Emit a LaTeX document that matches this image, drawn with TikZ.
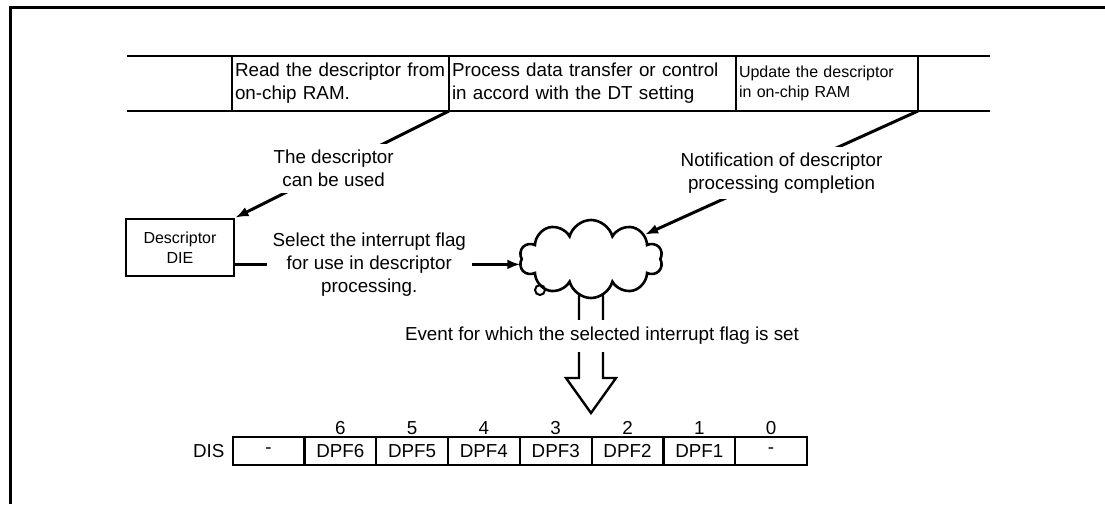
\documentclass[tikz,border=0pt]{standalone}
\usepackage{fontspec}
\setmainfont{Liberation Sans}
\usetikzlibrary{arrows.meta,shapes.symbols,calc,backgrounds}

\begin{document}
\begin{tikzpicture}[x=1pt, y=-1pt, >={Latex[length=13pt,width=10pt]},
    every node/.style={font=\fontsize{18.8}{23}\selectfont},
    small/.style={font=\fontsize{16}{20}\selectfont},
    cellbox/.style={draw, line width=2.4pt, outer sep=0pt, minimum height=55pt, inner sep=3pt, align=left, anchor=north west},
    regcell/.style={draw, line width=2.2pt, outer sep=0pt, minimum width=71.8pt, minimum height=28pt, inner sep=0pt, anchor=north west},
    conn/.style={->, line width=3pt},
    gap/.style={fill=white, align=center, inner sep=6pt}]
  \useasboundingbox (0,0) rectangle (1105,504);
  % frame
  \draw[line width=3pt] (10,504) -- (10,7) -- (1105,7);
  % processing steps
  \node[cellbox, text width=211pt] (rd) at (232,56) {Read the descriptor from\\on-chip RAM.};
  \node[cellbox, text width=281pt] (proc) at (rd.north east) {Process data transfer or control\\in accord with the DT setting};
  \node[cellbox, small, text width=176pt] (upd) at (proc.north east) {Update the descriptor\\in on-chip RAM};
  \draw[line width=2.4pt] (127,56) -- (rd.north west) (127,111) -- (rd.south west)
    (upd.north east) -- (990,56) (upd.south east) -- (990,111);
  % descriptor and flag selection
  \node[draw, line width=2.8pt, small, minimum width=108pt, minimum height=57pt, align=center] (die) at (180,247.5) {Descriptor\\DIE};
  \node[cloud, draw, fill=white, line width=2.6pt, cloud puffs=10, aspect=1.8, minimum width=143pt, minimum height=78pt] (cloud) at (591,259) {};
  \node[circle, draw, line width=2pt, inner sep=0pt, minimum size=10pt] (knot) at (540,290) {};
  % event arrow
  \begin{scope}[on background layer]
    \draw[line width=2.4pt] (cloud.center) ++(-12,0) -- ++(0,119) -- ++(-13,0) -- ++(25,35) coordinate (tip)
      -- ++(25,-35) -- ++(-13,0) -- ++(0,-119);
  \end{scope}
  \node[fill=white, inner sep=7pt] (event) at (602,336) {Event for which the selected interrupt flag is set};
  % connectors
  \coordinate (sel) at ([yshift=13pt]die.south east);
  \draw[conn] (proc.south west) -- (die.north east) node[gap, pos=0.54] (usable) {The descriptor\\can be used};
  \draw[conn] (upd.south east) -- (cloud) node[gap, pos=0.5] (notif) {Notification of descriptor\\processing completion};
  \draw[conn] (sel) -- (sel -| cloud.west) node[gap, pos=0.47] (select) {Select the interrupt flag\\for use in descriptor\\processing.};
  % DIS register
  \foreach \t [count=\i from 0] in {-,DPF6,DPF5,DPF4,DPF3,DPF2,DPF1,-}
    \node[regcell] (b\i) at ({232.6+71.8*\i},437) {\t};
  \foreach \i in {1,...,7}
    \node[anchor=south, inner sep=2pt] (n\i) at (b\i.north) {\the\numexpr7-\i\relax};
  \node[anchor=east, inner sep=0pt] (dis) at ([xshift=-8pt]b0.west) {DIS};
\end{tikzpicture}
\end{document}
